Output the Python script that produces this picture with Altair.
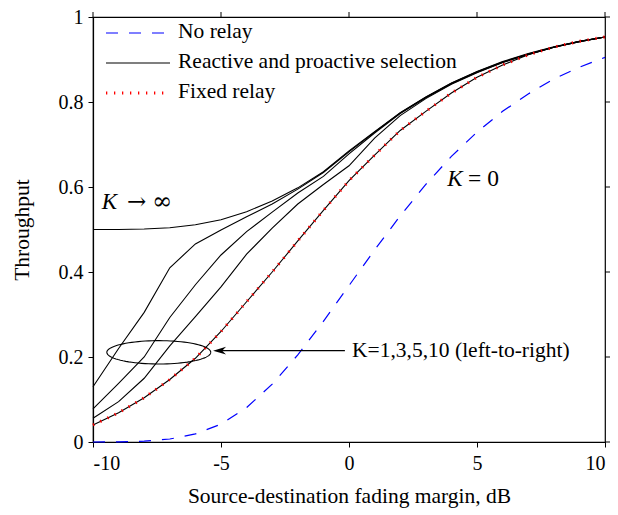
import altair as alt
import pandas as pd
import numpy as np

# ---------------- data ----------------
margin_db = [-10, -9, -8, -7, -6, -5, -4, -3, -2, -1, 0, 1, 2, 3, 4, 5, 6, 7, 8, 9, 10]

no_relay = [0.000, 0.0004, 0.002, 0.007, 0.019, 0.042, 0.081, 0.136, 0.205, 0.284, 0.368,
            0.452, 0.532, 0.606, 0.672, 0.729, 0.778, 0.819, 0.854, 0.882, 0.905]
fixed_relay = [0.040, 0.069, 0.104, 0.147, 0.197, 0.260, 0.330, 0.400, 0.473, 0.545, 0.615,
               0.675, 0.733, 0.778, 0.821, 0.858, 0.887, 0.911, 0.929, 0.943, 0.953]
k_inf = [0.500, 0.500, 0.501, 0.504, 0.511, 0.523, 0.542, 0.567, 0.598, 0.636, 0.685,
         0.730, 0.775, 0.812, 0.845, 0.872, 0.895, 0.914, 0.930, 0.943, 0.953]
k_1 = [0.130, 0.220, 0.305, 0.410, 0.466, 0.499, 0.530, 0.560, 0.595, 0.634, 0.683,
       0.729, 0.774, 0.811, 0.844, 0.871, 0.894, 0.913, 0.929, 0.942, 0.953]
k_3 = [0.078, 0.138, 0.200, 0.293, 0.370, 0.440, 0.495, 0.541, 0.586, 0.625, 0.678,
       0.727, 0.773, 0.810, 0.843, 0.870, 0.893, 0.912, 0.929, 0.942, 0.953]
k_5 = [0.056, 0.095, 0.150, 0.226, 0.295, 0.365, 0.442, 0.503, 0.560, 0.606, 0.650,
       0.715, 0.768, 0.808, 0.842, 0.869, 0.893, 0.912, 0.929, 0.942, 0.953]
k_10 = [0.040, 0.069, 0.104, 0.147, 0.197, 0.260, 0.330, 0.400, 0.473, 0.545, 0.615,
        0.675, 0.733, 0.778, 0.821, 0.858, 0.887, 0.911, 0.929, 0.943, 0.953]

x_ticks = [-10, -5, 0, 5, 10]
y_ticks = [0, 0.2, 0.4, 0.6, 0.8, 1.0]

legend_labels = ["No relay", "Reactive and proactive selection", "Fixed relay"]
legend_colors = ["#0000ff", "#000000", "#ff0000"]

# annotation positions (data units)
ellipse_center = (-7.43, 0.211)
ellipse_radii = (2.03, 0.0275)
arrow_tip = (-5.31, 0.215)
arrow_tail_x = -0.16
note_text = "K=1,3,5,10 (left-to-right)"
note_x = 0.12

FONT = "Liberation Serif"
W, H = 512, 425

xs = alt.Scale(domain=[-10, 10], nice=False, zero=False)
ys = alt.Scale(domain=[0, 1], nice=False)

# ---------------- frames ----------------
react_rows = []
for name, vals in [("inf", k_inf), ("k1", k_1), ("k3", k_3), ("k5", k_5), ("k10", k_10)]:
    for xv, yv in zip(margin_db, vals):
        react_rows.append({"series": name, "x": xv, "y": yv})
react_df = pd.DataFrame(react_rows)
fixed_df = pd.DataFrame({"x": margin_db, "y": fixed_relay})
norelay_df = pd.DataFrame({"x": margin_db, "y": no_relay})

X = alt.X("x:Q", scale=xs,
          axis=alt.Axis(values=x_ticks, title="Source-destination fading margin, dB",
                        labelExpr="'' + datum.value", grid=False, tickSize=5,
                        tickColor="black", domainColor="black", domainWidth=1.2,
                        tickWidth=1, labelFont=FONT, labelFontSize=20, labelColor="black",
                        labelPadding=6, titleFont=FONT, titleFontSize=21.5,
                        titleFontWeight="normal", titleColor="black", titlePadding=12))
Y = alt.Y("y:Q", scale=ys,
          axis=alt.Axis(values=y_ticks, title="Throughput", format="~g", grid=False,
                        tickSize=5, tickColor="black", domainColor="black", domainWidth=1.2,
                        tickWidth=1, labelFont=FONT, labelFontSize=20, labelColor="black",
                        labelPadding=5, titleFont=FONT, titleFontSize=21.5,
                        titleFontWeight="normal", titleColor="black", titlePadding=25))

norelay = alt.Chart(norelay_df).mark_line(color="#0000ff", strokeWidth=1.2,
                                          strokeDash=[12, 11]).encode(x=X, y=Y)
react = alt.Chart(react_df).mark_line(color="black", strokeWidth=1.1).encode(
    x=alt.X("x:Q", scale=xs), y=alt.Y("y:Q", scale=ys), detail="series:N")
fixed = alt.Chart(fixed_df).mark_line(color="#ff0000", strokeWidth=3,
                                      strokeDash=[1.3, 6.7]).encode(
    x=alt.X("x:Q", scale=xs), y=alt.Y("y:Q", scale=ys))

# mirrored outward ticks on top and right
top_ticks = alt.Chart(pd.DataFrame({"x": x_ticks})).mark_rule(color="black", strokeWidth=1).encode(
    x=alt.X("x:Q", scale=xs), y=alt.value(0), y2=alt.value(-5))
right_ticks = alt.Chart(pd.DataFrame({"y": y_ticks})).mark_rule(color="black", strokeWidth=1).encode(
    y=alt.Y("y:Q", scale=ys), x=alt.value(W), x2=alt.value(W + 5))

# ellipse annotation
t = np.linspace(0, 2 * np.pi, 90)
ell_df = pd.DataFrame({"x": ellipse_center[0] + ellipse_radii[0] * np.cos(t),
                       "y": ellipse_center[1] + ellipse_radii[1] * np.sin(t),
                       "i": np.arange(len(t))})
ellipse = alt.Chart(ell_df).mark_line(color="black", strokeWidth=1.1).encode(
    x=alt.X("x:Q", scale=xs), y=alt.Y("y:Q", scale=ys), order="i:Q")

# arrow
shaft = alt.Chart(pd.DataFrame({"x": [arrow_tip[0] + 0.3], "x2": [arrow_tail_x], "y": [arrow_tip[1]]})).mark_rule(
    color="black", strokeWidth=1.1).encode(x=alt.X("x:Q", scale=xs), x2="x2:Q", y=alt.Y("y:Q", scale=ys))
head = alt.Chart(pd.DataFrame({"x": [arrow_tip[0]], "y": [arrow_tip[1]]})).mark_point(
    shape="M 0 0 L 2 -0.6 L 1.4 0 L 2 0.6 Z", size=169, filled=True, color="black", opacity=1).encode(
    x=alt.X("x:Q", scale=xs), y=alt.Y("y:Q", scale=ys))
note = alt.Chart(pd.DataFrame({"x": [note_x], "y": [arrow_tip[1]], "t": [note_text]})).mark_text(
    font=FONT, fontSize=21.5, align="left", baseline="middle", color="black").encode(
    x=alt.X("x:Q", scale=xs), y=alt.Y("y:Q", scale=ys), text="t:N")

# K labels
def label(xv, yv, txt, italic, size=22, font=FONT):
    return alt.Chart(pd.DataFrame({"x": [xv], "y": [yv], "t": [txt]})).mark_text(
        font=font, fontSize=size, fontStyle="italic" if italic else "normal",
        align="left", baseline="alphabetic", color="black").encode(
        x=alt.X("x:Q", scale=xs), y=alt.Y("y:Q", scale=ys), text="t:N")

k_labels = [
    label(-9.66, 0.548, "K", True, 23),
    label(-8.67, 0.548, "→", False, 23, "DejaVu Serif"),
    label(-7.70, 0.548, "∞", False, 24, "DejaVu Serif"),
    label(3.84, 0.602, "K", True, 23),
    label(4.65, 0.602, "= 0", False, 23.5),
]

# legend (manual, top-left inside plot)
legend_layers = []
row_y = [16, 46, 76]
dashes = [[12, 11], [1, 0], [1.3, 6.7]]
widths = [1.2, 1.1, 3]
for lab, col, yy, dsh, wd in zip(legend_labels, legend_colors, row_y, dashes, widths):
    d = pd.DataFrame({"t": [lab]})
    legend_layers.append(alt.Chart(d).mark_rule(color=col, strokeWidth=wd, strokeDash=dsh).encode(
        x=alt.value(13), x2=alt.value(77), y=alt.value(yy)))
    legend_layers.append(alt.Chart(d).mark_text(font=FONT, fontSize=21.5, align="left",
                                                baseline="middle", color="black").encode(
        x=alt.value(85), y=alt.value(yy - 1), text="t:N"))

chart = alt.layer(norelay, react, fixed, top_ticks, right_ticks, ellipse, shaft, head, note,
                  *k_labels, *legend_layers).properties(
    width=W, height=H,
    autosize=alt.AutoSizeParams(type="none"),
    padding={"left": 93, "top": 17, "right": 13, "bottom": 73},
    background="white",
).configure_view(stroke="black", strokeWidth=1.2)

chart.save("out.html", embed_options={"renderer": "svg", "actions": False})
